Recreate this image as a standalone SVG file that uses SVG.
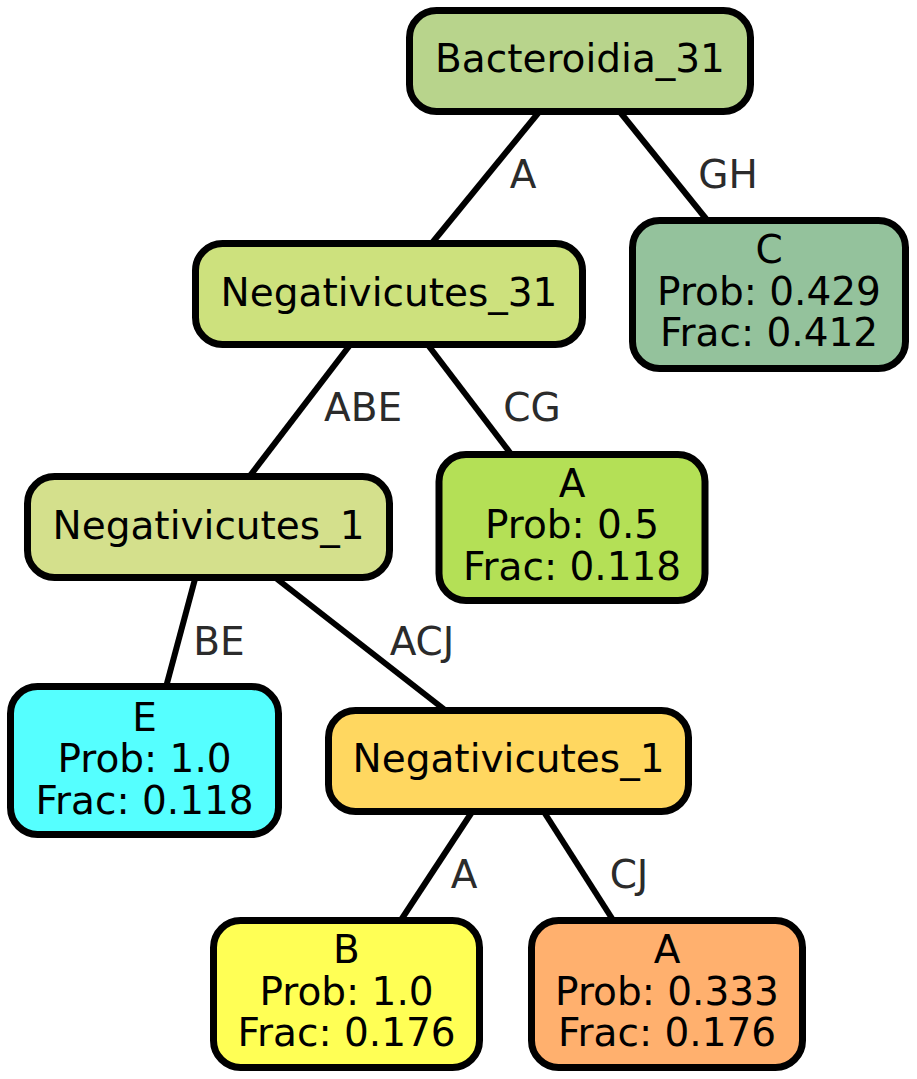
<svg xmlns="http://www.w3.org/2000/svg" width="917" height="1079" viewBox="0 0 917 1079">
<style>
.n{stroke:#000;stroke-width:7}
.t{font-family:"DejaVu Sans",sans-serif;font-size:39px;fill:#000;text-anchor:middle}
.l{font-family:"DejaVu Sans",sans-serif;font-size:39px;fill:#2b2b2b;text-anchor:middle}
.e{stroke:#000;stroke-width:6;fill:none}
</style>
<rect width="917" height="1079" fill="#fff"/>
<g id="connectors">
<line class="e" x1="539" y1="112" x2="432" y2="243"/>
<line class="e" x1="620" y1="112" x2="707" y2="220"/>
<line class="e" x1="350" y1="345" x2="249" y2="477"/>
<line class="e" x1="428" y1="345" x2="511" y2="454"/>
<line class="e" x1="195" y1="579" x2="166" y2="687"/>
<line class="e" x1="277" y1="579" x2="445" y2="710"/>
<line class="e" x1="472" y1="812" x2="401" y2="920"/>
<line class="e" x1="544" y1="812" x2="613" y2="920"/>
<text class="l" x="523" y="188">A</text>
<text class="l" x="728" y="188">GH</text>
<text class="l" x="363" y="421">ABE</text>
<text class="l" x="532" y="421">CG</text>
<text class="l" x="219" y="655">BE</text>
<text class="l" x="422" y="655">ACJ</text>
<text class="l" x="464" y="888">A</text>
<text class="l" x="629" y="888">CJ</text>
</g>
<g id="bacteroidia_31">
<rect class="n" x="409.5" y="10.5" width="341" height="101" rx="27" fill="#b8d48c"/>
<text class="t" x="580" y="72">Bacteroidia_31</text>
</g>
<g id="negativicutes_31">
<rect class="n" x="195.5" y="243.5" width="387" height="101" rx="27" fill="#cde17d"/>
<text class="t" x="389" y="306">Negativicutes_31</text>
</g>
<g id="leaf_c">
<rect class="n" x="632.5" y="220.5" width="273" height="148" rx="27" fill="#94c29c"/>
<text class="t" x="769" y="263">C</text>
<text class="t" x="769" y="305">Prob: 0.429</text>
<text class="t" x="769" y="346">Frac: 0.412</text>
</g>
<g id="negativicutes_1a">
<rect class="n" x="27.5" y="476.5" width="362" height="101" rx="27" fill="#d4e08c"/>
<text class="t" x="208.5" y="539">Negativicutes_1</text>
</g>
<g id="leaf_a1">
<rect class="n" x="439" y="454.5" width="266" height="146" rx="27" fill="#b4e056"/>
<text class="t" x="572" y="497">A</text>
<text class="t" x="572" y="538">Prob: 0.5</text>
<text class="t" x="572" y="580">Frac: 0.118</text>
</g>
<g id="leaf_e">
<rect class="n" x="10.5" y="686.5" width="268" height="148" rx="27" fill="#55ffff"/>
<text class="t" x="144.5" y="731">E</text>
<text class="t" x="144.5" y="772">Prob: 1.0</text>
<text class="t" x="144.5" y="814">Frac: 0.118</text>
</g>
<g id="negativicutes_1b">
<rect class="n" x="328.5" y="710.5" width="360" height="101" rx="27" fill="#ffd760"/>
<text class="t" x="508.5" y="772">Negativicutes_1</text>
</g>
<g id="leaf_b">
<rect class="n" x="213.5" y="920.5" width="266" height="147" rx="27" fill="#ffff55"/>
<text class="t" x="346.5" y="963">B</text>
<text class="t" x="346.5" y="1005">Prob: 1.0</text>
<text class="t" x="346.5" y="1046">Frac: 0.176</text>
</g>
<g id="leaf_a2">
<rect class="n" x="531.5" y="920.5" width="271" height="147" rx="27" fill="#ffb06e"/>
<text class="t" x="667" y="963">A</text>
<text class="t" x="667" y="1005">Prob: 0.333</text>
<text class="t" x="667" y="1046">Frac: 0.176</text>
</g>
</svg>
